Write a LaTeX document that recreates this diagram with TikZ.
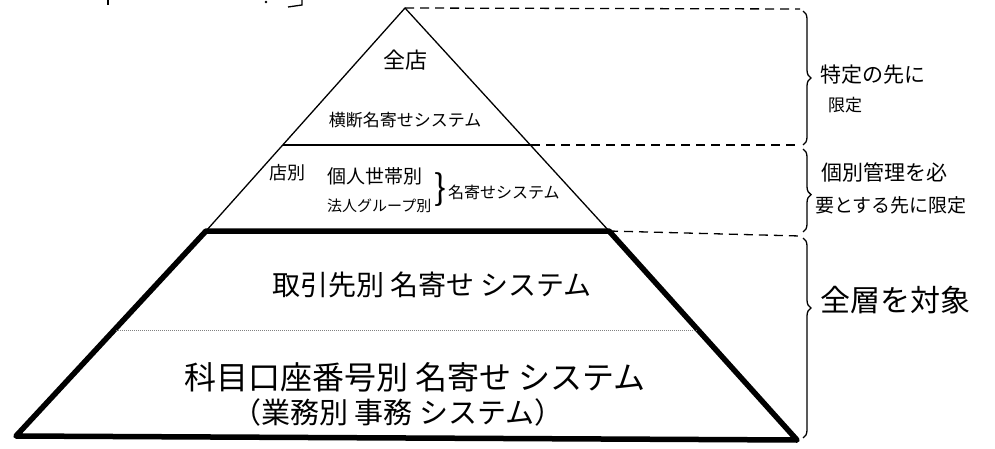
\documentclass[tikz,border=0pt]{standalone}
\usepackage{fontspec}
\newfontfamily\jp{Noto Sans CJK JP}
\usetikzlibrary{decorations.pathreplacing}
\begin{document}
\begin{tikzpicture}[x=1pt,y=-1pt,
  thinedge/.style={line width=1.3pt, line join=round},
  thickedge/.style={line width=5.5pt, line join=round, line cap=round},
  guide/.style={line width=1.3pt, dash pattern=on 9pt off 6pt},
  layerdiv/.style={line width=1pt, gray, densely dotted},
  bracestyle/.style={line width=1.3pt, decorate, decoration={brace, amplitude=8pt}},
  lbl/.style={inner sep=0pt, font=\jp},
]
\useasboundingbox (0,0) rectangle (995,449);
% key points
\coordinate (apex) at (405,8);
\coordinate (d1l) at (283,145);
\coordinate (d1r) at (531,145);
\coordinate (tl) at (206,231);
\coordinate (tr) at (609,231);
\coordinate (bl) at (16,436);
\coordinate (br) at (797,440);
\coordinate (d3l) at (116,330);
\coordinate (d3r) at (698,330);
\coordinate (g1) at (800,9);
\coordinate (g2) at (800,145);
\coordinate (g3) at (800,236);
% fragments of cut-off title
\draw[line width=1.3pt] (108,0) -- (108,5);
\fill (266,2) circle (1.3pt);
\draw[line width=1.3pt] (288,7) -- (302,5) -- (302,0);
% pyramid
\draw[thinedge] (tl) -- (apex) -- (tr);
\draw[thinedge] (d1l) -- (d1r);
\draw[thickedge] (tl) -- (tr) -- (br) -- (bl) -- cycle;
\draw[layerdiv] (d3l) -- (d3r);
% guides
\draw[guide] (apex) -- (g1);
\draw[guide] (d1r) -- (g2);
\draw[guide] (tr) -- (g3);
% braces
\draw[bracestyle, decoration={aspect=0.5}] (803,11) -- (803,145);
\draw[bracestyle, decoration={aspect=0.55}] (803,149) -- (803,232);
\draw[bracestyle, decoration={aspect=0.35}] (803,238) -- (803,438);
% labels
\node[lbl, font=\jp\fontsize{22}{24}\selectfont] (zenten) at (405,60) {全店};
\node[lbl, font=\jp\fontsize{17}{19}\selectfont] (oudan) at (405,120) {横断名寄せシステム};
\node[lbl, font=\jp\fontsize{18}{20}\selectfont] (tenbetsu) at (287,173) {店別};
\node[lbl, font=\jp\fontsize{19}{21}\selectfont, anchor=west] (kojin) at (327,176) {個人世帯別};
\node[lbl, font=\jp\fontsize{15}{17}\selectfont, anchor=west] (houjin) at (327,206) {法人グループ別};
\node[lbl, font=\jp\fontsize{44}{46}\selectfont, scale=0.8] (kakko) at (440,190) {\}};
\node[lbl, font=\jp\fontsize{16}{18}\selectfont, anchor=west] (nayose2) at (448,192) {名寄せシステム};
\node[lbl, font=\jp\fontsize{28}{30}\selectfont] (torihiki) at (432,285) {取引先別 名寄せ システム};
\node[lbl, font=\jp\fontsize{32}{34}\selectfont] (kamoku) at (415,377) {科目口座番号別 名寄せ システム};
\node[lbl, font=\jp\fontsize{29}{31}\selectfont] (gyoumu) at (398,412) {（業務別 事務 システム）};
\node[lbl, font=\jp\fontsize{21}{23}\selectfont, anchor=west] (tokutei) at (820,75) {特定の先に};
\node[lbl, font=\jp\fontsize{17}{19}\selectfont, anchor=west] (gentei) at (828,105) {限定};
\node[lbl, font=\jp\fontsize{21}{23}\selectfont, anchor=west] (kobetsu) at (821,172) {個別管理を必};
\node[lbl, font=\jp\fontsize{19}{21}\selectfont, anchor=west] (youto) at (815,205) {要とする先に限定};
\node[lbl, font=\jp\fontsize{30}{32}\selectfont, anchor=west] (zensou) at (820,300) {全層を対象};
\end{tikzpicture}
\end{document}
